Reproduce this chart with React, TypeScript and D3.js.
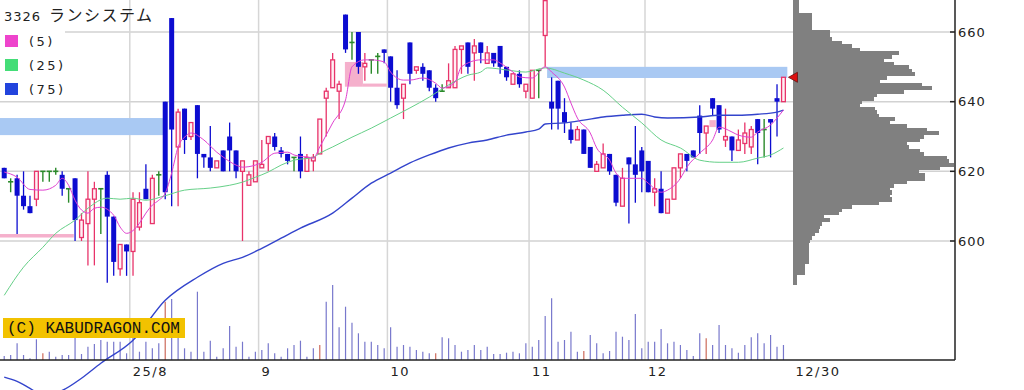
import * as d3 from "d3";

// trading days shown, per month
const julDays = [3, 4, 7, 8, 9, 10, 11, 14, 15, 16, 17, 18, 22, 23, 24, 25, 28, 29, 30, 31];
const augDays = [1, 4, 5, 6, 7, 8, 12, 13, 14, 15, 18, 19, 20, 21, 22, 25, 26, 27, 28, 29];
const sepDays = [1, 2, 3, 4, 5, 8, 9, 10, 11, 12, 16, 17, 18, 19, 22, 24, 25, 26, 29, 30];
const octDays = [1, 2, 3, 6, 7, 8, 9, 10, 14, 15, 16, 17, 20, 21, 22, 23, 24, 27, 28, 29, 30, 31];
const novDays = [4, 5, 6, 7, 10, 11, 12, 13, 14, 17, 18, 19, 20, 21, 25, 26, 27, 28];
const decDays = [1, 2, 3, 4, 5, 8, 9, 10, 11, 12, 15, 16, 17, 18, 19, 22, 23, 24, 25, 26, 29, 30];

const dates: string[] = [
  ...julDays.map((d) => `7/${d}`),
  ...augDays.map((d) => `8/${d}`),
  ...sepDays.map((d) => `9/${d}`),
  ...octDays.map((d) => `10/${d}`),
  ...novDays.map((d) => `11/${d}`),
  ...decDays.map((d) => `12/${d}`),
];

const monthTicks = [
  { date: "8/1", label: "25/8" },
  { date: "9/1", label: "9" },
  { date: "10/1", label: "10" },
  { date: "11/4", label: "11" },
  { date: "12/1", label: "12" },
];
const lastLabel = "12/30";

const opens = [
  621, 617, 618, 613, 610, 612, 620, 620, 620, 619, 615, 618, 601, 605, 612, 615, 619, 607, 592, 599,
  597, 604, 615, 605, 619, 640, 664, 627, 638, 630, 639, 625, 624, 621, 626, 630, 626, 620, 616, 617,
  621, 628, 630, 626, 625, 624, 625, 620, 623, 625, 641, 644, 643, 665, 657, 660, 650, 652, 653, 655,
  653, 644, 641, 657, 649, 650, 649, 644, 643, 644, 644, 655, 657, 654, 657, 651, 654, 656, 650, 645,
  648, 643, 641, 649, 659, 640, 646, 637, 632, 629, 632, 627, 620, 621, 625, 619, 610, 624, 622, 626,
  623, 614, 615, 608, 612, 621, 625, 626, 636, 631, 641, 639, 629, 630, 626, 628, 627, 635, 632, 635,
  641, 640,
];
const highs = [
  621, 618, 619, 620, 613, 620, 620, 620, 621, 620, 615, 618, 608, 620, 617, 615, 620, 607, 599, 599,
  614, 614, 622, 619, 620, 640, 664, 638, 638, 634, 639, 625, 633, 623, 626, 634, 626, 623, 620, 623,
  629, 630, 631, 627, 625, 624, 630, 625, 625, 635, 644, 654, 646, 665, 660, 660, 654, 652, 654, 655,
  653, 649, 645, 657, 650, 651, 649, 645, 645, 651, 656, 656, 657, 658, 657, 656, 654, 656, 650, 648,
  649, 645, 649, 649, 669, 647, 646, 641, 634, 633, 632, 627, 623, 628, 625, 619, 621, 624, 633, 627,
  623, 618, 620, 612, 621, 625, 625, 626, 639, 633, 641, 639, 638, 630, 632, 634, 633, 635, 635, 635,
  645, 647,
];
const lows = [
  618, 614, 602, 609, 608, 610, 617, 617, 619, 613, 611, 600, 600, 593, 593, 602, 588, 590, 590, 590,
  590, 603, 612, 605, 613, 612, 610, 610, 625, 629, 618, 621, 620, 621, 620, 620, 618, 600, 616, 617,
  621, 620, 626, 624, 622, 620, 618, 620, 620, 625, 630, 644, 635, 654, 652, 648, 646, 648, 648, 651,
  640, 638, 635, 645, 648, 646, 643, 640, 643, 644, 644, 648, 648, 646, 651, 651, 650, 648, 646, 645,
  644, 641, 641, 641, 650, 632, 632, 631, 628, 629, 625, 621, 620, 621, 619, 610, 610, 605, 611, 614,
  614, 610, 608, 608, 612, 618, 620, 624, 625, 625, 636, 631, 627, 623, 626, 625, 625, 622, 624, 624,
  630, 640,
];
const closes = [
  618, 617, 613, 610, 608, 620, 620, 620, 620, 615, 615, 606, 606, 612, 615, 615, 607, 594, 599, 597,
  612, 611, 612, 618, 619, 614, 632, 637, 629, 634, 625, 624, 621, 623, 620, 626, 620, 623, 619, 623,
  622, 630, 627, 625, 623, 624, 620, 624, 624, 635, 643, 652, 645, 655, 657, 650, 651, 652, 653, 654,
  644, 639, 645, 648, 650, 648, 644, 641, 643, 646, 655, 656, 650, 656, 654, 654, 651, 650, 647, 648,
  645, 645, 649, 649, 669, 638, 638, 634, 629, 632, 625, 621, 622, 625, 620, 611, 618, 622, 619, 620,
  614, 615, 608, 612, 621, 625, 623, 624, 631, 633, 638, 632, 630, 626, 629, 631, 632, 631, 632, 634,
  640, 647,
];

// volume, hundreds of shares
const volumes = [
  40, 50, 167, 50, 17, 207, 67, 83, 33, 50, 50, 227, 60, 133, 160, 200, 183, 183, 183, 67,
  233, 83, 183, 117, 167, 583, 610, 233, 117, 83, 683, 83, 193, 33, 117, 340, 133, 183, 33, 83,
  100, 167, 67, 33, 117, 150, 193, 33, 117, 150, 583, 750, 327, 533, 373, 267, 183, 183, 150, 117,
  327, 133, 150, 133, 100, 83, 67, 67, 227, 217, 150, 83, 100, 150, 100, 133, 60, 60, 73, 83,
  67, 167, 133, 200, 440, 617, 183, 200, 283, 83, 90, 250, 167, 67, 90, 283, 233, 200, 460, 117,
  183, 183, 310, 167, 183, 150, 100, 40, 267, 217, 150, 350, 150, 117, 73, 150, 227, 267, 167, 250,
  133, 150,
];
const redVolumeDays = [6, 25, 49, 67, 90, 109];

// moving averages, read at [day index, price]
const ma5: [number, number][] = [
  [0, 619.8], [2, 618.3], [4, 614.8], [6, 614.6], [8, 616], [9, 618], [10, 616], [11, 611.7],
  [12, 608.9], [13, 608], [14, 609.4], [15, 609.7], [17, 607.4], [18, 604], [19, 602.2], [20, 603],
  [21, 605.1], [22, 608], [23, 610.3], [24, 611.7], [25, 613.7], [26, 619.5], [27, 627], [28, 629.8],
  [29, 631], [31, 629], [33, 625.5], [34, 624.1], [36, 621.8], [37, 621.2], [39, 621.8], [40, 622.6],
  [42, 625.2], [44, 625.5], [45, 624.7], [47, 624.1], [48, 623.8], [49, 627], [51, 633.9], [53, 640.5],
  [54, 650], [56, 652], [57, 652], [59, 651.4], [60, 648.5], [62, 646.2], [63, 646.2], [65, 646.8],
  [67, 645.3], [68, 643.9], [70, 645.6], [71, 650], [74, 652], [76, 652], [77, 651.1], [79, 648.5],
  [80, 647.1], [82, 646.8], [84, 650], [85, 648.5], [87, 644.2], [88, 639.6], [89, 635.3], [91, 631],
  [92, 626.7], [94, 623.2], [95, 619.5], [96, 618], [99, 618], [100, 616.6], [102, 614], [103, 614.6],
  [105, 618], [106, 621.2], [108, 625.2], [110, 629], [111, 632.7], [113, 631.3], [114, 630.4],
  [116, 629.8], [117, 631.3], [119, 633.3], [120, 635.3], [121, 637.6],
];
const ma25: [number, number][] = [
  [0, 584.4], [3, 592.5], [6, 598.2], [8, 602.2], [11, 606], [13, 609.4], [16, 612.3], [18, 612],
  [20, 612.3], [22, 611.7], [25, 613], [28, 614.6], [32, 615.2], [35, 616], [37, 616.9], [39, 618.3],
  [41, 619.8], [43, 621.8], [45, 623.2], [48, 624], [49, 625.2], [51, 627], [54, 629.8], [57, 632.4],
  [60, 635.3], [63, 638.2], [66, 641.3], [69, 644.8], [72, 647.6], [74, 648.5], [75, 649.7],
  [78, 649.1], [81, 648.5], [84, 649.7], [87, 648.2], [90, 646.2], [93, 643.3], [96, 638.4],
  [99, 633.9], [102, 629], [105, 626.7], [108, 623.2], [111, 622.6], [114, 622.6], [117, 623.8],
  [119, 624.7], [121, 626.7],
];
const ma75: [number, number][] = [
  [0, 560.9], [2, 559.7], [4, 557.7], [6, 555.7], [9, 557.1], [12, 560.6], [15, 564.9], [20, 571.5],
  [25, 583], [30, 589.6], [34, 593.6], [37, 595.3], [40, 597.9], [43, 600.8], [46, 603.7], [51, 608],
  [54, 612.3], [57, 616.6], [60, 619.5], [63, 622.4], [66, 624.7], [69, 626.7], [72, 628.1], [75, 629],
  [78, 630.4], [81, 631.3], [83, 632.1], [84, 633.6], [87, 633.9], [90, 634.7], [93, 635.6],
  [96, 636.1], [99, 636.4], [101, 635.6], [103, 635.3], [108, 635.6], [111, 636.1], [114, 636.1],
  [117, 636.4], [120, 637], [121, 637.6],
];

// unfilled gaps (day index span, price span)
const upGaps = [
  { from: -1, to: 10.8, top: 602, bottom: 601 },
  { from: 52.9, to: 55.7, top: 651.4, bottom: 644.3 },
  { from: 55.7, to: 59.4, top: 645.2, bottom: 644.3 },
  { from: 109.5, to: 110.5, top: 634.7, bottom: 632.7 },
];
const downGaps = [
  { from: -1, to: 24.7, top: 635.3, bottom: 630.4 },
  { from: 84.3, to: 121.6, top: 650, bottom: 646.8 },
];

// volume by price, from 669 down to 588
const profileTop = 669;
const profileVol = [
  6, 6, 6, 6, 19, 19, 19, 19, 19, 37, 37, 39, 49, 59, 67,
  106, 99, 91, 101, 116, 119, 122, 94, 87, 129, 139, 111, 84, 81, 69, 67, 82, 84, 86, 102, 97, 114,
  134, 146, 131, 127, 114, 116, 127, 131, 154, 156, 161, 147, 126, 132, 132, 114, 101, 97, 99, 97,
  99, 86, 59, 49, 46, 31, 37, 29, 27, 26, 22, 19, 17, 16, 16, 16, 16, 16, 16, 12, 12, 12, 4, 4, 4,
];

const priceTicks = [600, 620, 640, 660];
const legend = [
  { label: "(5)", color: "#ee44cc" },
  { label: "(25)", color: "#44dd77" },
  { label: "(75)", color: "#2244dd" },
];

const W = 1024;
const H = 390;
const AXIS_X = 955;
const AXIS_Y = 360;
const UP = "#e8336a";
const DOWN = "#0c0cd0";
const FLAT = "#2a8a2a";

export default function App() {
  const N = dates.length;
  const x = d3.scaleBand<number>().domain(d3.range(N)).range([1, 1 + N * 6.44]);
  const bw = x.bandwidth();
  const xc = d3.scaleLinear().domain([0, N - 1]).range([x(0)! + bw / 2, x(N - 1)! + bw / 2]);
  const y = d3.scaleLinear().domain([600, 660]).range([241, 32]);
  const vy = d3.scaleLinear().domain([0, 750]).range([AXIS_Y, 285]);
  const px = d3.scaleLinear().domain([0, 161]).range([792.7, 953.7]);
  const line = d3
    .line<[number, number]>()
    .x((d) => xc(d[0]))
    .y((d) => y(d[1]))
    .curve(d3.curveMonotoneX);
  const bodyW = 4.6;
  const idx = (date: string) => dates.indexOf(date);
  const lastClose = closes[N - 1];

  const zone = (g: { from: number; to: number; top: number; bottom: number }, fill: string, k: number) => {
    const x0 = Math.max(0, xc(g.from));
    return (
      <rect key={k} x={x0} width={xc(g.to) - x0} y={y(g.top)} height={y(g.bottom) - y(g.top)} fill={fill} />
    );
  };

  return (
    <svg width={W} height={H} style={{ position: "absolute", left: 0, top: 0, background: "#fff" }}>
      {/* grid */}
      {priceTicks.map((p) => (
        <line key={p} x1={0} x2={AXIS_X} y1={y(p)} y2={y(p)} stroke="#d2d2d2" strokeWidth={1.5} />
      ))}
      {monthTicks.map((t) => (
        <line key={t.label} x1={x(idx(t.date))!} x2={x(idx(t.date))!} y1={0} y2={AXIS_Y} stroke="#d6d6d6" strokeWidth={1.5} />
      ))}

      {/* gap zones */}
      {downGaps.map((g, k) => zone(g, "#a9c9f3", k))}
      {upGaps.map((g, k) => zone(g, "#f5b0cc", k + 10))}

      {/* volume */}
      {volumes.map((v, i) => (
        <line
          key={i}
          x1={xc(i)}
          x2={xc(i)}
          y1={vy(0)}
          y2={vy(v)}
          stroke={redVolumeDays.includes(i) ? "#cc6a5a" : "#7878cc"}
          strokeWidth={1.2}
        />
      ))}

      {/* candles */}
      {dates.map((_, i) => {
        const o = opens[i], c = closes[i], h = highs[i], l = lows[i];
        const cx = xc(i);
        if (o === c) {
          return (
            <g key={i} stroke={FLAT} strokeWidth={1.4}>
              <line x1={cx} x2={cx} y1={y(h)} y2={y(l)} />
              <line x1={cx - 2.6} x2={cx + 2.6} y1={y(o)} y2={y(o)} strokeWidth={1.6} />
            </g>
          );
        }
        const up = c > o;
        const top = y(Math.max(o, c));
        const bh = Math.max(1.5, y(Math.min(o, c)) - top);
        return (
          <g key={i}>
            <line x1={cx} x2={cx} y1={y(h)} y2={y(l)} stroke={up ? UP : DOWN} strokeWidth={1.3} />
            {up ? (
              <rect x={cx - bodyW / 2 + 0.4} y={top} width={bodyW - 0.8} height={bh} fill="#fff0f4" stroke={UP} strokeWidth={1.3} />
            ) : (
              <rect x={cx - bodyW / 2 - 0.2} y={top} width={bodyW + 0.4} height={bh} fill={DOWN} />
            )}
          </g>
        );
      })}

      {/* moving averages */}
      <path d={line(ma75) ?? ""} fill="none" stroke="#3344cc" strokeWidth={1.4} />
      <path d={line(ma25) ?? ""} fill="none" stroke="#66d088" strokeWidth={1} />
      <path d={line(ma5) ?? ""} fill="none" stroke="#e040d0" strokeWidth={1} />

      {/* volume by price */}
      <g shapeRendering="crispEdges">
        {profileVol.map((v, k) => {
          const p = profileTop - k;
          return (
            <rect
              key={p}
              x={px(0)}
              width={px(v) - px(0)}
              y={y(p + 0.5)}
              height={y(p - 0.5) - y(p + 0.5) + 0.6}
              fill="#808080"
            />
          );
        })}
      </g>

      {/* last price marker */}
      <path
        d={`M${xc(N - 1) + 5},${y(lastClose)} l9,-5 l0,10 z`}
        fill="#dd1111"
        stroke="#661111"
        strokeWidth={0.8}
      />

      {/* axes */}
      <line x1={0} x2={AXIS_X} y1={AXIS_Y} y2={AXIS_Y} stroke="#222" strokeWidth={1.5} />
      <line x1={AXIS_X} x2={AXIS_X} y1={0} y2={AXIS_Y} stroke="#222" strokeWidth={1.5} />
      {priceTicks.map((p) => (
        <g key={p}>
          <line x1={AXIS_X - 5} x2={AXIS_X} y1={y(p)} y2={y(p)} stroke="#222" strokeWidth={1.5} />
          <text
            x={AXIS_X + 3}
            y={y(p)}
            dy="0.36em"
            fontFamily="DejaVu Sans"
            fontSize={13}
            letterSpacing={1}
            fill="#222"
          >
            {p}
          </text>
        </g>
      ))}
      {monthTicks.map((t) => (
        <text key={t.label} x={x(idx(t.date))! + 3} y={376} fontFamily="DejaVu Sans" fontSize={13} letterSpacing={1.5} fill="#222">
          {t.label}
        </text>
      ))}
      <text x={xc(N - 1) + 12} y={376} fontFamily="DejaVu Sans" fontSize={13} letterSpacing={1.5} fill="#222">
        {lastLabel}
      </text>

      {/* title + legend */}
      <rect x={0} y={26} width={65} height={72} fill="#fff" />
      <text x={4} y={21} fill="#222">
        <tspan fontFamily="DejaVu Sans" fontSize={13} letterSpacing={1}>3326</tspan>
        <tspan fontFamily="Noto Sans CJK JP" fontSize={16} letterSpacing={1.5} dx={8}>
          ランシステム
        </tspan>
      </text>
      {legend.map((d, k) => (
        <g key={d.label}>
          <rect x={5} y={35 + k * 24} width={13} height={12} fill={d.color} />
          <text x={29} y={46 + k * 24} fontFamily="DejaVu Sans" fontSize={13} letterSpacing={2.5} fill="#222">
            {d.label}
          </text>
        </g>
      ))}

      {/* copyright */}
      <rect x={3} y={318} width={182} height={20} fill="#f2c200" />
      <text x={7} y={333} fontFamily="Liberation Mono" fontSize={16} fill="#111">
        (C) KABUDRAGON.COM
      </text>
    </svg>
  );
}
